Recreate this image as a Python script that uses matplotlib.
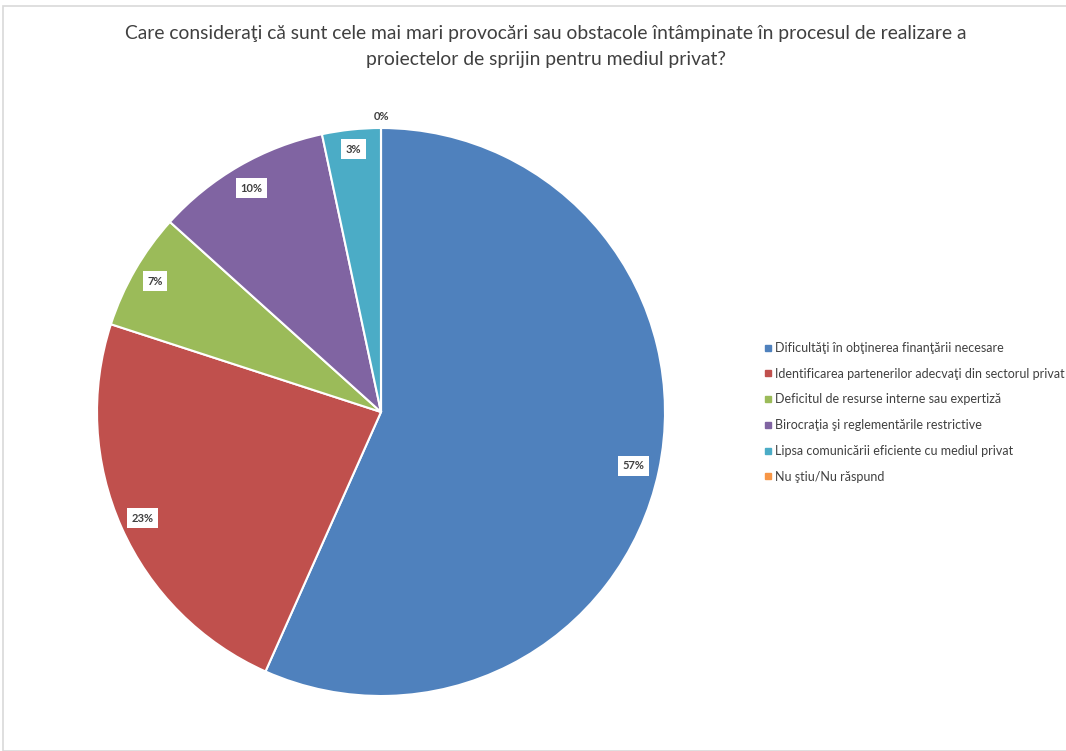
import matplotlib.pyplot as plt
from matplotlib.lines import Line2D
from matplotlib.patches import Rectangle
import numpy as np

plt.rcParams['font.family'] = ['Lato', 'DejaVu Sans']

# raspunsuri (numar de respondenti)
categories = [
    "Dificultăţi în obţinerea finanţării necesare",
    "Identificarea partenerilor adecvaţi din sectorul privat",
    "Deficitul de resurse interne sau expertiză",
    "Birocraţia şi reglementările restrictive",
    "Lipsa comunicării eficiente cu mediul privat",
    "Nu ştiu/Nu răspund",
]
counts = [17, 7, 2, 3, 1, 0]
colors = ['#4F81BD', '#C0504D', '#9BBB59', '#8064A2', '#4BACC6', '#F79646']
# distanta etichetei fata de centru (fractie din raza)
label_dist = [0.91, 0.92, 0.92, 0.91, 0.93, 1.04]

title = ("Care consideraţi că sunt cele mai mari provocări sau obstacole întâmpinate în procesul de realizare a\n"
         "proiectelor de sprijin pentru mediul privat?")

fig = plt.figure(figsize=(10.66, 7.51), dpi=100)
fig.patches.append(Rectangle((3 / 1066, 0), 1, 1 - 6 / 751, transform=fig.transFigure,
                             fill=False, edgecolor='#d9d9d9', linewidth=1.2))

ax = fig.add_axes([97 / 1066, 55 / 751, 568 / 1066, 568 / 751])
wedges, _ = ax.pie(counts, colors=colors, startangle=90, counterclock=False,
                   wedgeprops=dict(edgecolor='white', linewidth=1.5))
ax.set_xlim(-1, 1)
ax.set_ylim(-1, 1)
ax.set_aspect('equal')

total = sum(counts)
for w, c, d in zip(wedges, counts, label_dist):
    ang = np.deg2rad((w.theta1 + w.theta2) / 2)
    x, y = d * np.cos(ang), d * np.sin(ang)
    pct = f"{round(100 * c / total)}%"
    box = dict(boxstyle='square,pad=0.4', fc='white', ec='none') if c > 0 else None
    ax.text(x, y, pct, ha='center', va='center', fontsize=8, color='#404040',
            fontweight='bold', bbox=box)

fig.text(0.512, 0.967, title, ha='center', va='top', fontsize=13.9, color='#404040',
         linespacing=1.65)

handles = [Line2D([], [], marker='s', linestyle='none', markersize=4, color=col) for col in colors]
fig.legend(handles, categories, loc='center left', bbox_to_anchor=(0.712, 0.451),
           frameon=False, fontsize=9, labelcolor='#404040', handletextpad=0.15,
           handlelength=0.7, labelspacing=1.1, borderaxespad=0)

fig.savefig('out.png', dpi=100)
